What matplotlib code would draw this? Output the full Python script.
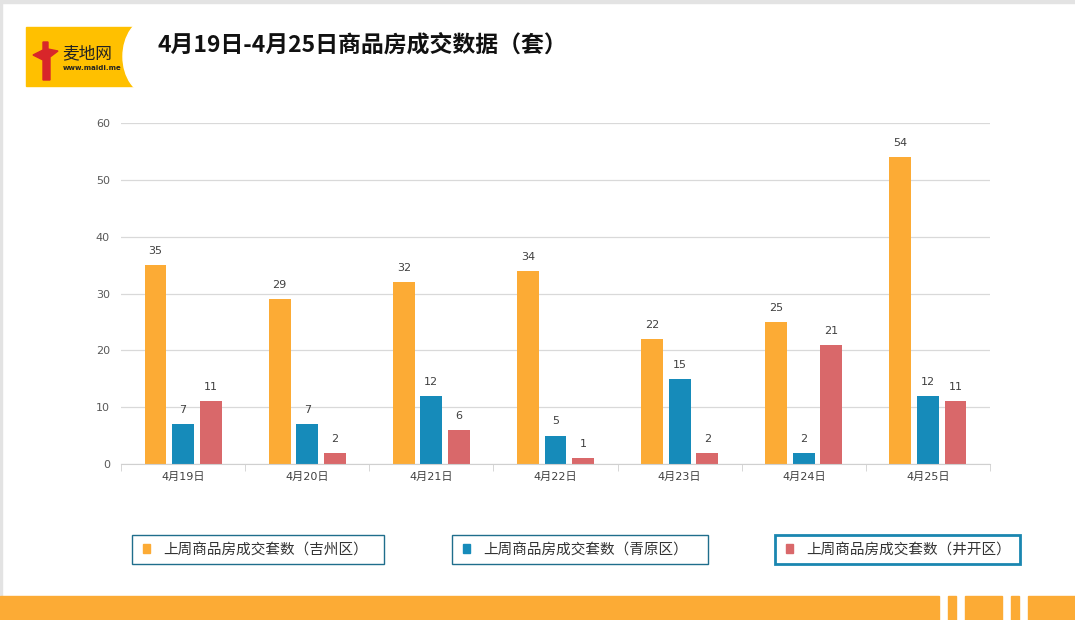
import numpy as np
import matplotlib
matplotlib.use('Agg')
import matplotlib.pyplot as plt
from matplotlib.patches import Rectangle, Ellipse, Polygon

plt.rcParams['font.family'] = ['DejaVu Sans', 'Noto Sans CJK SC']

# data
days = ['4月19日', '4月20日', '4月21日', '4月22日', '4月23日', '4月24日', '4月25日']
jizhou = [35, 29, 32, 34, 22, 25, 54]
qingyuan = [7, 7, 12, 5, 15, 2, 12]
jingkai = [11, 2, 6, 1, 2, 21, 11]
series_names = ['上周商品房成交套数（吉州区）', '上周商品房成交套数（青原区）', '上周商品房成交套数（井开区）']
series_colors = ['#FCAB35', '#168BBA', '#D9686A']
y_ticks = [0, 10, 20, 30, 40, 50, 60]
title = '4月19日-4月25日商品房成交数据（套）'

W, H = 1075, 620
fig = plt.figure(figsize=(W / 100, H / 100), dpi=100)


def fx(px):
    return px / W


def fy(py):
    return 1 - py / H


# page frame
fig.patches.append(Rectangle((0, fy(3)), 1, 3 / H, transform=fig.transFigure,
                             color='#E3E3E3', zorder=0))
fig.patches.append(Rectangle((0, 0), 2 / W, 1, transform=fig.transFigure,
                             color='#E3E3E3', zorder=0))

# bottom orange band with gaps
band = [(0, 939), (948, 956), (965, 1002), (1011, 1019), (1028, 1075)]
for x0, x1 in band:
    fig.patches.append(Rectangle((fx(x0), 0), fx(x1 - x0), 24 / H,
                                 transform=fig.transFigure, color='#FCAB35', zorder=1))

# logo
fig.patches.append(Rectangle((fx(26), fy(86)), fx(109), 59 / H, transform=fig.transFigure,
                             color='#FFC000', zorder=1))
fig.patches.append(Ellipse((fx(150), fy(56.5)), 54 / W, 76 / H, transform=fig.transFigure,
                           color='white', zorder=2))
fig.patches.append(Polygon([(fx(43), fy(42)), (fx(48), fy(42)), (fx(48), fy(49)),
                            (fx(58), fy(51)), (fx(50), fy(57)), (fx(50), fy(80)),
                            (fx(43), fy(80)), (fx(43), fy(60)), (fx(33), fy(55)),
                            (fx(43), fy(50))],
                           closed=True, transform=fig.transFigure, color='#D8262A', zorder=3))
fig.text(fx(62), fy(54), '麦地网', fontsize=12, family=['Noto Sans CJK SC'],
         color='#222222', va='center', ha='left', zorder=4)
fig.text(fx(63), fy(68), 'www.maidi.me', fontsize=5, fontweight='bold', color='#222222',
         va='center', ha='left', zorder=4)

# title
fig.text(fx(158), fy(45), title, fontsize=16.5, fontweight='bold',
         family=['Noto Sans CJK SC'], color='#111111', va='center', ha='left')

# chart
ax = fig.add_axes([fx(121), fy(464), fx(869), (464 - 123) / H])
x = np.arange(len(days))
bw = 0.177
step = 0.222
groups = [jizhou, qingyuan, jingkai]
for i, (vals, col) in enumerate(zip(groups, series_colors)):
    bars = ax.bar(x + (i - 1) * step, vals, width=bw, color=col, zorder=3)
    for b, v in zip(bars, vals):
        ax.text(b.get_x() + b.get_width() / 2, v + 1.6, str(v), ha='center',
                va='bottom', fontsize=8, color='#404040')

ax.set_xlim(-0.5, len(days) - 0.5)
ax.set_ylim(0, 60)
ax.set_yticks(y_ticks)
ax.grid(axis='y', color='#D9D9D9', linewidth=0.9, zorder=0)
for s in ['top', 'right', 'left']:
    ax.spines[s].set_visible(False)
ax.spines['bottom'].set_color('#D0D0D0')
ax.spines['bottom'].set_zorder(4)
ax.tick_params(axis='y', length=0, labelsize=8, labelcolor='#595959', pad=8)
ax.set_xticks(x)
ax.set_xticklabels(days)
ax.tick_params(axis='x', length=0, labelsize=8, labelcolor='#404040', pad=6)
ax.set_xticks(np.arange(-0.5, len(days) + 0.5, 1), minor=True)
ax.tick_params(axis='x', which='minor', length=5, color='#D0D0D0', direction='out')

# legend boxes
boxes = [(132, 384, '#1F6E8C', 1.0), (452, 708, '#1F6E8C', 1.0), (775, 1020, '#1A86B0', 2.0)]
for (x0, x1, ec, lw), name, col in zip(boxes, series_names, series_colors):
    fig.patches.append(Rectangle((fx(x0), fy(564)), fx(x1 - x0), 29 / H,
                                 transform=fig.transFigure, facecolor='white',
                                 edgecolor=ec, linewidth=lw, zorder=2))
    fig.patches.append(Rectangle((fx(x0 + 11), fy(553)), fx(7), 9 / H,
                                 transform=fig.transFigure, color=col, zorder=3))
    fig.text(fx(x0 + 31), fy(549.5), name, fontsize=10.5, family=['Noto Sans CJK SC'],
             color='#333333', va='center', ha='left', zorder=4)

fig.savefig('out.png', dpi=100)
